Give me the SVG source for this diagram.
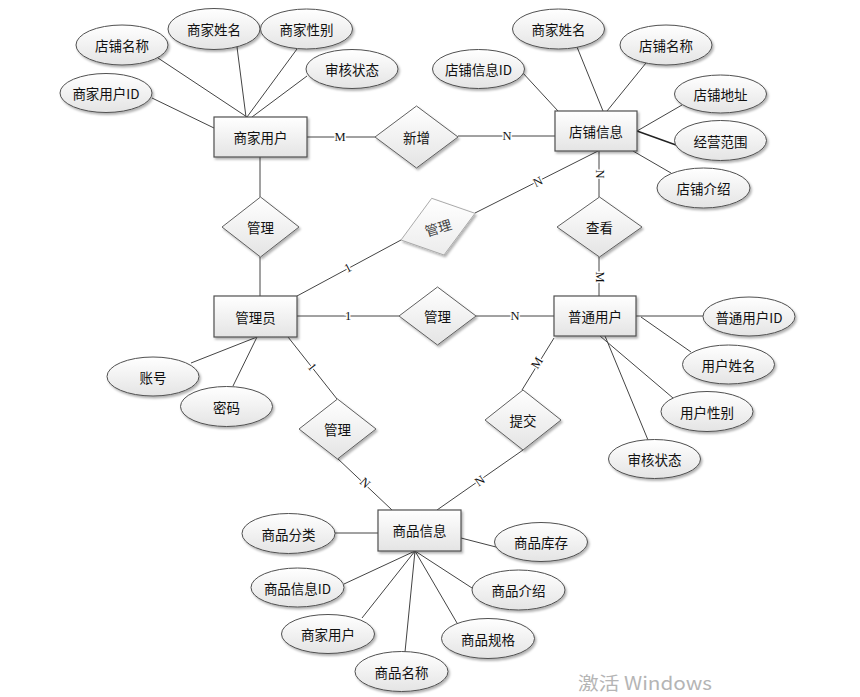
<svg xmlns="http://www.w3.org/2000/svg" width="860" height="697" viewBox="0 0 860 697">
<defs>
<linearGradient id="g" x1="0" y1="0" x2="0" y2="1"><stop offset="0" stop-color="#ffffff"/><stop offset="1" stop-color="#e4e4e4"/></linearGradient>
<linearGradient id="g2" x1="0" y1="0" x2="0" y2="1"><stop offset="0" stop-color="#ffffff"/><stop offset="1" stop-color="#ececec"/></linearGradient>
<filter id="sh" x="-20%" y="-20%" width="140%" height="150%"><feDropShadow dx="1.5" dy="2" stdDeviation="1.2" flood-color="#000" flood-opacity="0.3"/></filter>
<style>
.ent{fill:url(#g);stroke:#505050;stroke-width:1.2;filter:url(#sh)}
.att{fill:url(#g);stroke:#505050;stroke-width:1;filter:url(#sh)}
.rel{fill:url(#g);stroke:#606060;stroke-width:1;filter:url(#sh)}
.rel2{fill:url(#g2);stroke:#aaaaaa;stroke-width:1;filter:url(#sh)}
.t{font-family:"Noto Sans CJK SC","Noto Sans CJK JP",sans-serif;font-size:13.5px;fill:#111;text-anchor:middle;dominant-baseline:central}
.ln{stroke:#444;stroke-width:1;fill:none}
.lb{font-family:"Liberation Serif",serif;font-size:12.5px;fill:#111;text-anchor:middle;dominant-baseline:central;stroke:#fff;stroke-width:3px;paint-order:stroke}
.wm{font-family:"Noto Sans CJK SC","Open Sans",sans-serif;font-size:18px;fill:#b5b5b5}
</style>
</defs>
<rect width="860" height="697" fill="#ffffff"/>

<g id="connectors">
<!-- 商家用户 attributes -->
<line class="ln" x1="158" y1="58" x2="247" y2="117"/>
<line class="ln" x1="237" y1="47" x2="246" y2="117"/>
<line class="ln" x1="297" y1="49" x2="247" y2="117"/>
<line class="ln" x1="307" y1="76" x2="252" y2="117"/>
<line class="ln" x1="152" y1="98" x2="214" y2="128"/>
<!-- 店铺信息 attributes -->
<line class="ln" x1="522" y1="72" x2="558" y2="111"/>
<line class="ln" x1="577" y1="47" x2="603" y2="111"/>
<line class="ln" x1="646" y1="63" x2="607" y2="111"/>
<line class="ln" x1="682" y1="105" x2="637" y2="131"/>
<line class="ln" x1="637" y1="131" x2="676" y2="145" style="stroke-width:1.4;stroke:#222"/>
<line class="ln" x1="633" y1="151" x2="671" y2="173"/>
<!-- 普通用户 attributes -->
<line class="ln" x1="636" y1="316" x2="703" y2="316"/>
<line class="ln" x1="641" y1="317" x2="691" y2="352"/>
<line class="ln" x1="600" y1="336" x2="673" y2="398"/>
<line class="ln" x1="605" y1="336" x2="648" y2="440"/>
<!-- 管理员 attributes -->
<line class="ln" x1="191" y1="363" x2="257" y2="337"/>
<line class="ln" x1="233" y1="386" x2="257" y2="337"/>
<!-- 商品信息 attributes -->
<line class="ln" x1="335" y1="533" x2="378" y2="533"/>
<line class="ln" x1="461" y1="538" x2="496" y2="547"/>
<line class="ln" x1="344" y1="584" x2="415" y2="551"/>
<line class="ln" x1="362" y1="618" x2="415" y2="551"/>
<line class="ln" x1="405" y1="652" x2="415" y2="551"/>
<line class="ln" x1="457" y1="623" x2="415" y2="551"/>
<line class="ln" x1="472" y1="588" x2="415" y2="551"/>
<!-- relationships -->
<line class="ln" x1="307" y1="137" x2="375" y2="137"/>
<line class="ln" x1="458" y1="136" x2="555" y2="136"/>
<line class="ln" x1="260" y1="157" x2="260" y2="197"/>
<line class="ln" x1="260" y1="257" x2="260" y2="296"/>
<line class="ln" x1="297" y1="296" x2="401" y2="240"/>
<line class="ln" x1="475" y1="213" x2="598" y2="151"/>
<line class="ln" x1="599" y1="151" x2="599" y2="197"/>
<line class="ln" x1="599" y1="257" x2="599" y2="296"/>
<line class="ln" x1="297" y1="316" x2="399" y2="316"/>
<line class="ln" x1="476" y1="316" x2="554" y2="316"/>
<line class="ln" x1="554" y1="338" x2="522" y2="390"/>
<line class="ln" x1="523" y1="450" x2="437" y2="510"/>
<line class="ln" x1="288" y1="337" x2="337" y2="399"/>
<line class="ln" x1="337" y1="458" x2="392" y2="510"/>
<!-- cardinality labels -->
<text class="lb" x="340" y="137">M</text>
<text class="lb" x="507" y="136">N</text>
<text class="lb" transform="translate(600,174) rotate(90)">N</text>
<text class="lb" transform="translate(600,277) rotate(90)">M</text>
<text class="lb" x="515" y="316">N</text>
<text class="lb" x="348" y="316">1</text>
<text class="lb" transform="translate(348,268) rotate(-28)">1</text>
<text class="lb" transform="translate(538,182) rotate(-27)">N</text>
<text class="lb" transform="translate(537,363) rotate(-58)">M</text>
<text class="lb" transform="translate(480,481) rotate(-35)">N</text>
<text class="lb" transform="translate(312,367) rotate(52)">1</text>
<text class="lb" transform="translate(365,483) rotate(43)">N</text>
</g>

<!-- entities -->
<g id="e-merchant"><rect class="ent" x="214" y="117" width="93" height="40"/><text class="t" x="260.5" y="137">商家用户</text></g>
<g id="e-shop"><rect class="ent" x="555" y="111" width="82" height="40"/><text class="t" x="596" y="131">店铺信息</text></g>
<g id="e-admin"><rect class="ent" x="214" y="296" width="83" height="41"/><text class="t" x="255.5" y="316.5">管理员</text></g>
<g id="e-user"><rect class="ent" x="554" y="296" width="82" height="40"/><text class="t" x="595" y="316">普通用户</text></g>
<g id="e-goods"><rect class="ent" x="378" y="510" width="83" height="41"/><text class="t" x="419.5" y="530">商品信息</text></g>

<!-- relationships -->
<g id="r-add"><polygon class="rel" points="375,137 416.5,106 458,137 416.5,168"/><text class="t" x="416.5" y="137">新增</text></g>
<g id="r-manage1"><polygon class="rel" points="222,227 260.5,197 299,227 260.5,257"/><text class="t" x="260.5" y="227">管理</text></g>
<g id="r-manage2"><polygon class="rel2" points="401,240 431.7,198.3 475,213.3 444,255"/><text class="t" transform="translate(438,227) rotate(-17)" style="fill:#444">管理</text></g>
<g id="r-manage3"><polygon class="rel" points="399,316 437.5,287 476,316 437.5,345"/><text class="t" x="437.5" y="316">管理</text></g>
<g id="r-view"><polygon class="rel" points="557,227 599.5,197 642,227 599.5,257"/><text class="t" x="599.5" y="227">查看</text></g>
<g id="r-submit"><polygon class="rel" points="485,420 523,390 561,420 523,450"/><text class="t" x="523" y="420">提交</text></g>
<g id="r-manage4"><polygon class="rel" points="299,429 337.5,399 376,429 337.5,459"/><text class="t" x="337.5" y="429">管理</text></g>

<!-- 商家用户 attributes -->
<g id="a-m-shopname"><ellipse class="att" cx="122" cy="45" rx="46" ry="20"/><text class="t" x="122" y="45">店铺名称</text></g>
<g id="a-m-name"><ellipse class="att" cx="214" cy="29" rx="46" ry="20.5"/><text class="t" x="214" y="29">商家姓名</text></g>
<g id="a-m-gender"><ellipse class="att" cx="306.5" cy="29" rx="46" ry="20"/><text class="t" x="306.5" y="29">商家性别</text></g>
<g id="a-m-status"><ellipse class="att" cx="352" cy="69" rx="46" ry="19.5"/><text class="t" x="352" y="69">审核状态</text></g>
<g id="a-m-id"><ellipse class="att" cx="106" cy="93" rx="46" ry="19.5"/><text class="t" x="106" y="93">商家用户ID</text></g>

<!-- 店铺信息 attributes -->
<g id="a-s-mname"><ellipse class="att" cx="558.5" cy="29" rx="46" ry="20"/><text class="t" x="558.5" y="29">商家姓名</text></g>
<g id="a-s-name"><ellipse class="att" cx="666" cy="45" rx="46" ry="20"/><text class="t" x="666" y="45">店铺名称</text></g>
<g id="a-s-id"><ellipse class="att" cx="478.5" cy="69" rx="46" ry="19.5"/><text class="t" x="478.5" y="69">店铺信息ID</text></g>
<g id="a-s-addr"><ellipse class="att" cx="720.5" cy="94" rx="46" ry="19"/><text class="t" x="720.5" y="94">店铺地址</text></g>
<g id="a-s-scope"><ellipse class="att" cx="720.5" cy="140.5" rx="46" ry="20"/><text class="t" x="720.5" y="140.5">经营范围</text></g>
<g id="a-s-intro"><ellipse class="att" cx="703.5" cy="188" rx="46.5" ry="20"/><text class="t" x="703.5" y="188">店铺介绍</text></g>

<!-- 普通用户 attributes -->
<g id="a-u-id"><ellipse class="att" cx="749" cy="316.5" rx="46" ry="19.5"/><text class="t" x="749" y="316.5">普通用户ID</text></g>
<g id="a-u-name"><ellipse class="att" cx="728.5" cy="364.5" rx="46" ry="19.5"/><text class="t" x="728.5" y="364.5">用户姓名</text></g>
<g id="a-u-gender"><ellipse class="att" cx="707" cy="411.5" rx="46" ry="20"/><text class="t" x="707" y="411.5">用户性别</text></g>
<g id="a-u-status"><ellipse class="att" cx="654.5" cy="459" rx="46" ry="19.5"/><text class="t" x="654.5" y="459">审核状态</text></g>

<!-- 管理员 attributes -->
<g id="a-a-acct"><ellipse class="att" cx="153" cy="376.5" rx="46" ry="19.5"/><text class="t" x="153" y="376.5">账号</text></g>
<g id="a-a-pwd"><ellipse class="att" cx="226.5" cy="406.5" rx="46" ry="20"/><text class="t" x="226.5" y="406.5">密码</text></g>

<!-- 商品信息 attributes -->
<g id="a-g-cat"><ellipse class="att" cx="288.5" cy="533.5" rx="46.5" ry="20"/><text class="t" x="288.5" y="533.5">商品分类</text></g>
<g id="a-g-stock"><ellipse class="att" cx="541" cy="542" rx="46.5" ry="19.5"/><text class="t" x="541" y="542">商品库存</text></g>
<g id="a-g-id"><ellipse class="att" cx="297.5" cy="587.5" rx="46.5" ry="19.5"/><text class="t" x="297.5" y="587.5">商品信息ID</text></g>
<g id="a-g-intro"><ellipse class="att" cx="518.5" cy="590" rx="46.5" ry="20"/><text class="t" x="518.5" y="590">商品介绍</text></g>
<g id="a-g-merchant"><ellipse class="att" cx="328" cy="634" rx="46.5" ry="19.5"/><text class="t" x="328" y="634">商家用户</text></g>
<g id="a-g-spec"><ellipse class="att" cx="488" cy="638.5" rx="46.5" ry="20"/><text class="t" x="488" y="638.5">商品规格</text></g>
<g id="a-g-name"><ellipse class="att" cx="401.5" cy="671.5" rx="46.5" ry="20"/><text class="t" x="401.5" y="671.5">商品名称</text></g>

<text class="wm" x="578" y="690" textLength="134" lengthAdjust="spacingAndGlyphs">激活 Windows</text>
</svg>
